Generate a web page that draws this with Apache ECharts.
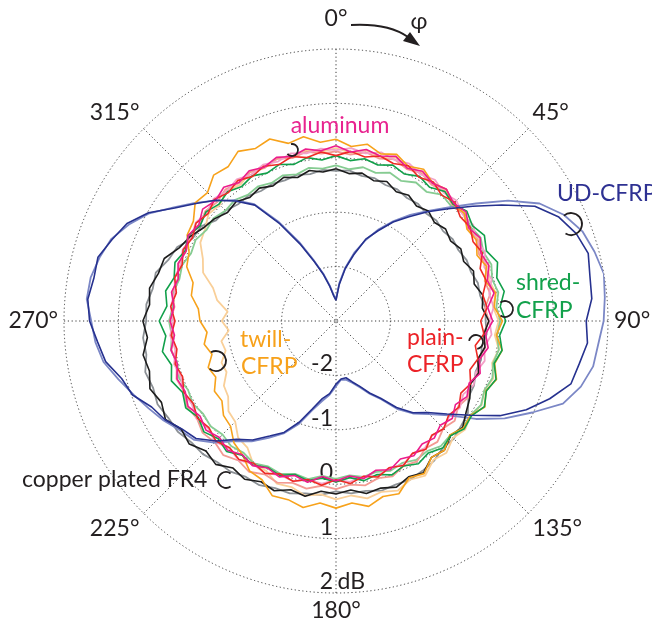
<!DOCTYPE html>
<html>
<head>
<meta charset="utf-8">
<script src="https://cdn.jsdelivr.net/npm/echarts@6/dist/echarts.min.js"></script>
<style>
  html, body { margin: 0; padding: 0; background: #fff; }
  #chart { width: 652px; height: 624px; }
</style>
</head>
<body>
<div id="chart"></div>
<script>
// angle of each sample, degrees, 0 at top, clockwise
const angles = Array.from({ length: 72 }, (_, i) => i * 5);
const angleTicks = [0, 45, 90, 135, 180, 225, 270, 315];
const radiusTicks = [-2, -1, 0, 1, 2];

// relative field strength in dB, one value per 5 degrees
const udDark = [-2.62,-2.33,-2.02,-1.74,-1.40,-1.17,-0.90,-0.66,-0.38,-0.08,0.28,0.72,1.22,1.52,1.70,1.80,1.74,1.72,1.60,1.64,1.54,1.47,1.18,0.86,0.48,0.02,-0.34,-0.62,-0.80,-1.06,-1.36,-1.54,-1.72,-1.84,-1.94,-1.93,-1.84,-1.66,-1.55,-1.33,-1.02,-0.74,-0.56,-0.33,-0.16,0.12,0.36,0.46,0.63,0.74,0.98,1.08,1.30,1.40,1.53,1.58,1.52,1.53,1.38,1.24,0.98,0.62,0.36,0.14,-0.12,-0.40,-0.94,-1.44,-1.84,-2.12,-2.36,-2.54];
const udLight = [-2.60,-2.30,-2.00,-1.70,-1.42,-1.14,-0.88,-0.62,-0.36,-0.04,0.36,0.86,1.32,1.62,1.82,1.92,2.00,1.96,1.92,1.84,1.80,1.66,1.44,0.98,0.58,0.14,-0.30,-0.58,-0.78,-1.02,-1.34,-1.52,-1.70,-1.82,-1.90,-1.92,-1.80,-1.64,-1.50,-1.30,-0.98,-0.72,-0.52,-0.30,-0.12,0.16,0.40,0.50,0.66,0.80,0.96,1.14,1.34,1.44,1.50,1.60,1.58,1.50,1.40,1.20,0.96,0.64,0.38,0.13,-0.10,-0.38,-0.90,-1.40,-1.82,-2.10,-2.34,-2.52];
const aluDark = [0.22,0.12,0.20,0.14,0.22,0.10,0.18,0.09,0.16,0.06,0.12,-0.02,0.06,-0.06,-0.01,-0.12,-0.05,-0.20,-0.12,-0.24,-0.16,-0.27,-0.18,-0.30,-0.22,-0.32,-0.21,-0.29,-0.19,-0.24,-0.14,-0.20,-0.09,-0.16,-0.06,-0.14,-0.06,-0.13,0.01,-0.06,0.05,-0.02,0.07,0.00,0.10,0.03,0.12,0.05,0.14,0.06,0.11,0.02,0.08,-0.02,0.05,-0.01,0.07,0.00,0.09,0.04,0.14,0.08,0.20,0.13,0.21,0.11,0.19,0.12,0.20,0.13,0.21,0.14];
const aluLight = [0.14,0.19,0.13,0.21,0.15,0.19,0.11,0.17,0.08,0.13,0.04,0.08,-0.03,0.02,-0.10,-0.04,-0.14,-0.09,-0.18,-0.13,-0.23,-0.17,-0.26,-0.21,-0.30,-0.22,-0.28,-0.20,-0.25,-0.15,-0.19,-0.08,-0.13,-0.05,-0.10,-0.03,-0.08,0.00,-0.04,0.05,0.01,0.09,0.04,0.12,0.06,0.14,0.07,0.13,0.06,0.10,0.03,0.08,0.00,0.06,-0.01,0.05,0.01,0.07,0.04,0.11,0.07,0.15,0.10,0.18,0.12,0.18,0.11,0.17,0.12,0.19,0.13,0.18];
const plainDark = [0.04,0.13,0.06,0.14,0.08,0.15,0.05,0.12,0.02,0.09,-0.02,0.01,-0.09,-0.03,-0.18,-0.14,-0.26,-0.21,-0.34,-0.27,-0.40,-0.30,-0.38,-0.27,-0.35,-0.24,-0.30,-0.20,-0.26,-0.12,-0.19,-0.07,-0.13,-0.03,-0.10,0.00,-0.08,0.03,-0.04,0.05,-0.01,0.09,0.02,0.11,0.04,0.12,0.05,0.11,0.03,0.09,0.00,0.06,-0.03,0.04,-0.04,0.05,-0.02,0.07,0.01,0.10,0.05,0.14,0.07,0.16,0.08,0.15,0.07,0.14,0.06,0.13,0.05,0.12];
const plainLight = [0.12,0.07,0.15,0.09,0.16,0.08,0.14,0.06,0.11,0.02,0.06,-0.04,0.00,-0.10,-0.05,-0.17,-0.12,-0.25,-0.19,-0.28,-0.21,-0.30,-0.22,-0.28,-0.19,-0.26,-0.15,-0.21,-0.10,-0.14,-0.02,-0.06,0.04,-0.01,0.07,0.02,0.09,0.04,0.13,0.08,0.16,0.11,0.20,0.13,0.22,0.15,0.20,0.12,0.16,0.08,0.12,0.03,0.07,0.00,0.05,-0.02,0.06,0.01,0.08,0.04,0.11,0.06,0.14,0.09,0.16,0.10,0.16,0.11,0.17,0.10,0.16,0.09];
const shredDark = [0.04,-0.04,0.03,-0.03,0.05,-0.02,0.07,0.00,0.11,0.04,0.14,0.06,0.15,0.05,0.16,0.06,0.14,0.03,0.12,0.02,0.10,0.01,0.13,0.05,0.15,0.04,0.08,-0.02,0.05,-0.04,0.03,-0.06,0.01,-0.08,-0.02,-0.11,-0.04,-0.10,-0.02,-0.08,0.02,-0.03,0.06,0.01,0.13,0.06,0.17,0.09,0.19,0.11,0.22,0.13,0.24,0.14,0.25,0.12,0.18,0.08,0.15,0.06,0.14,0.05,0.12,0.04,0.10,0.02,0.08,0.00,0.06,-0.02,0.05,-0.03];
const shredLight = [-0.14,-0.20,-0.13,-0.18,-0.10,-0.16,-0.06,-0.10,0.03,-0.01,0.08,0.02,0.07,-0.01,0.04,-0.03,0.03,-0.04,0.02,-0.03,0.04,-0.01,0.06,0.01,0.08,0.02,0.04,-0.03,0.00,-0.08,-0.05,-0.12,-0.07,-0.13,-0.09,-0.15,-0.10,-0.14,-0.05,-0.09,-0.01,-0.05,0.02,-0.04,0.00,-0.05,0.01,-0.02,0.04,0.00,0.07,0.02,0.08,0.03,0.07,0.01,0.04,-0.02,0.01,-0.06,-0.02,-0.09,-0.06,-0.13,-0.10,-0.17,-0.14,-0.20,-0.15,-0.21,-0.14,-0.19];
const copperDark = [-0.20,-0.28,-0.24,-0.33,-0.27,-0.38,-0.33,-0.42,-0.36,-0.44,-0.37,-0.43,-0.35,-0.41,-0.31,-0.37,-0.26,-0.30,-0.19,-0.27,-0.22,-0.30,-0.21,-0.27,-0.16,-0.08,0.04,-0.02,0.10,0.06,0.22,0.16,0.25,0.18,0.22,0.12,0.18,0.14,0.27,0.21,0.32,0.26,0.36,0.30,0.44,0.38,0.52,0.47,0.62,0.54,0.64,0.55,0.60,0.48,0.55,0.44,0.48,0.38,0.36,0.18,0.10,-0.02,-0.08,-0.18,-0.14,-0.23,-0.18,-0.26,-0.19,-0.27,-0.19,-0.25];
const copperLight = [-0.24,-0.22,-0.29,-0.28,-0.34,-0.33,-0.39,-0.37,-0.42,-0.39,-0.43,-0.38,-0.40,-0.35,-0.36,-0.30,-0.31,-0.24,-0.25,-0.22,-0.28,-0.24,-0.27,-0.20,-0.19,-0.04,0.00,0.06,0.05,0.14,0.18,0.22,0.20,0.23,0.17,0.18,0.13,0.21,0.22,0.28,0.27,0.33,0.31,0.38,0.39,0.46,0.47,0.55,0.56,0.62,0.58,0.63,0.54,0.56,0.49,0.50,0.42,0.43,0.28,0.22,0.04,0.03,-0.12,-0.13,-0.20,-0.19,-0.24,-0.22,-0.25,-0.22,-0.26,-0.21];
const twillDark = [0.34,0.22,0.30,0.18,0.26,0.14,0.22,0.10,0.16,0.04,0.08,-0.06,-0.02,-0.14,-0.06,-0.16,-0.02,-0.08,0.06,-0.04,0.10,0.02,0.14,0.04,0.16,0.02,0.06,-0.04,0.10,0.06,0.24,0.18,0.38,0.34,0.46,0.36,0.44,0.36,0.48,0.40,0.42,0.22,0.18,0.00,-0.08,-0.26,-0.30,-0.44,-0.42,-0.56,-0.50,-0.64,-0.54,-0.62,-0.50,-0.46,-0.30,-0.28,-0.08,-0.02,0.16,0.20,0.38,0.34,0.50,0.46,0.60,0.50,0.56,0.38,0.44,0.30];
const twillLight = [0.18,0.10,0.19,0.12,0.20,0.11,0.17,0.09,0.14,0.06,0.09,-0.01,0.03,-0.07,-0.01,-0.09,-0.02,-0.10,-0.01,-0.07,0.04,-0.03,0.08,0.01,0.09,0.02,0.10,0.04,0.16,0.12,0.28,0.22,0.32,0.25,0.31,0.22,0.28,0.20,0.26,0.16,0.18,0.04,0.04,-0.16,-0.20,-0.38,-0.42,-0.58,-0.62,-0.78,-0.76,-0.90,-0.86,-1.02,-0.90,-1.00,-0.78,-0.66,-0.40,-0.30,-0.12,-0.06,0.06,0.02,0.12,0.06,0.16,0.10,0.18,0.11,0.19,0.12];

const textColor = '#231f20';
const fontFamily = 'Lato, "Noto Sans", sans-serif';
const cx = 336, cy = 321, outerR = 272;

function pairs(vals) {
  const d = vals.map((v, i) => [v, angles[i]]);
  d.push([vals[0], 360]);
  return d;
}

function line(name, vals, color, width) {
  return {
    name: name,
    type: 'line',
    coordinateSystem: 'polar',
    polarIndex: 0,
    symbol: 'none',
    smooth: false,
    data: pairs(vals),
    lineStyle: { color: color, width: width },
    silent: true
  };
}

const dotted = { color: '#3a3a3a', width: 1, type: [1.2, 2.6] };

function text(str, x, y, color, align) {
  return {
    type: 'text', x: x, y: y, z: 100,
    style: {
      text: str, fill: color, font: '23px ' + fontFamily,
      textAlign: align || 'left', textVerticalAlign: 'middle'
    }
  };
}

function hook(x, y, r, gapCenter, gapHalf) {
  const a0 = (gapCenter + gapHalf) * Math.PI / 180;
  const a1 = (gapCenter - gapHalf + 360) * Math.PI / 180;
  return {
    type: 'arc', z: 100,
    shape: { cx: x, cy: y, r: r, startAngle: a0, endAngle: a1, clockwise: true },
    style: { stroke: textColor, lineWidth: 1.8, fill: null }
  };
}

const chart = echarts.init(document.getElementById('chart'));
chart.setOption({
  animation: false,
  backgroundColor: '#fff',
  polar: [
    { center: [cx, cy], radius: outerR },
    { center: [cx, cy], radius: outerR }
  ],
  angleAxis: [
    {
      polarIndex: 0,
      type: 'value', min: 0, max: 360, interval: 45,
      startAngle: 90, clockwise: true,
      axisLine: { show: false },
      axisTick: { show: false },
      splitLine: { show: true, lineStyle: dotted },
      axisLabel: {
        margin: 6,
        color: textColor,
        fontSize: 23,
        fontFamily: fontFamily,
        formatter: v => angleTicks.indexOf(v) < 0 ? '' : (v === 0 ? '{z|0°}' : v + '°'),
        rich: { z: { fontSize: 23, fontFamily: fontFamily, color: textColor, padding: [0, 0, 13, 0] } }
      }
    },
    {
      polarIndex: 1,
      type: 'value', min: 0, max: 360,
      startAngle: 270, clockwise: true,
      axisLine: { show: false }, axisTick: { show: false },
      splitLine: { show: false }, axisLabel: { show: false }
    }
  ],
  radiusAxis: [
    {
      polarIndex: 0,
      type: 'value', min: -3, max: 2, interval: 1,
      axisLine: { show: false }, axisTick: { show: false },
      axisLabel: { show: false },
      splitLine: { show: true, lineStyle: dotted }
    },
    {
      polarIndex: 1,
      type: 'value', min: -3, max: 2, interval: 1,
      axisLine: { show: false }, axisTick: { show: false },
      splitLine: { show: false },
      axisLabel: {
        margin: 29,
        align: 'right',
        verticalAlign: 'bottom',
        color: textColor,
        formatter: v => radiusTicks.indexOf(v) < 0 ? '' : (v === 2 ? '{n|2}{u| dB}' : '{n|' + v + '}{s|}'),
        rich: {
          n: { fontSize: 23, fontFamily: fontFamily, color: textColor },
          s: { width: 32 },
          u: { width: 32, fontSize: 23, fontFamily: fontFamily, color: textColor }
        }
      }
    }
  ],
  series: [
    line('copper plated FR4 b', copperLight, '#8c9196', 1.8),
    line('twill-CFRP b', twillLight, '#f9cf98', 1.8),
    line('shred-CFRP b', shredLight, '#86cc92', 1.8),
    line('plain-CFRP b', plainLight, '#f39a92', 1.8),
    line('aluminum b', aluLight, '#f3a1c8', 1.8),
    line('UD-CFRP b', udLight, '#7b87c6', 1.8),
    line('copper plated FR4', copperDark, '#1c1c1c', 1.6),
    line('twill-CFRP', twillDark, '#f7a21b', 1.6),
    line('shred-CFRP', shredDark, '#11a04a', 1.6),
    line('plain-CFRP', plainDark, '#ee2a24', 1.6),
    line('aluminum', aluDark, '#ec1c8c', 1.6),
    line('UD-CFRP', udDark, '#26318f', 1.6)
  ],
  graphic: [
    text('aluminum', 340, 126, '#e8238f', 'center'),
    text('UD-CFRP', 557, 194, '#2e3192'),
    text('shred-', 516, 283, '#12a14b'),
    text('CFRP', 516, 311, '#12a14b'),
    text('plain-', 407, 338, '#ec2227'),
    text('CFRP', 407, 365, '#ec2227'),
    text('twill-', 240, 340, '#f7a11a'),
    text('CFRP', 241, 367, '#f7a11a'),
    text('copper plated FR4', 22, 480, textColor),
    text('φ', 419, 22, textColor, 'center'),
    hook(571, 224, 11, 175, 55),
    hook(505, 309, 8, 180, 55),
    hook(476, 342, 7, 135, 55),
    hook(216, 361, 10, 185, 55),
    hook(226, 480, 8, 0, 55),
    hook(292, 150, 6, 200, 60),
    {
      type: 'bezierCurve', z: 100,
      shape: { x1: 351, y1: 25, cpx1: 388, cpy1: 23, x2: 408, y2: 37 },
      style: { stroke: textColor, lineWidth: 2, fill: null }
    },
    {
      type: 'polygon', z: 100,
      shape: { points: [[420, 46], [403, 41], [410, 32]] },
      style: { fill: textColor }
    }
  ]
});
</script>
</body>
</html>
